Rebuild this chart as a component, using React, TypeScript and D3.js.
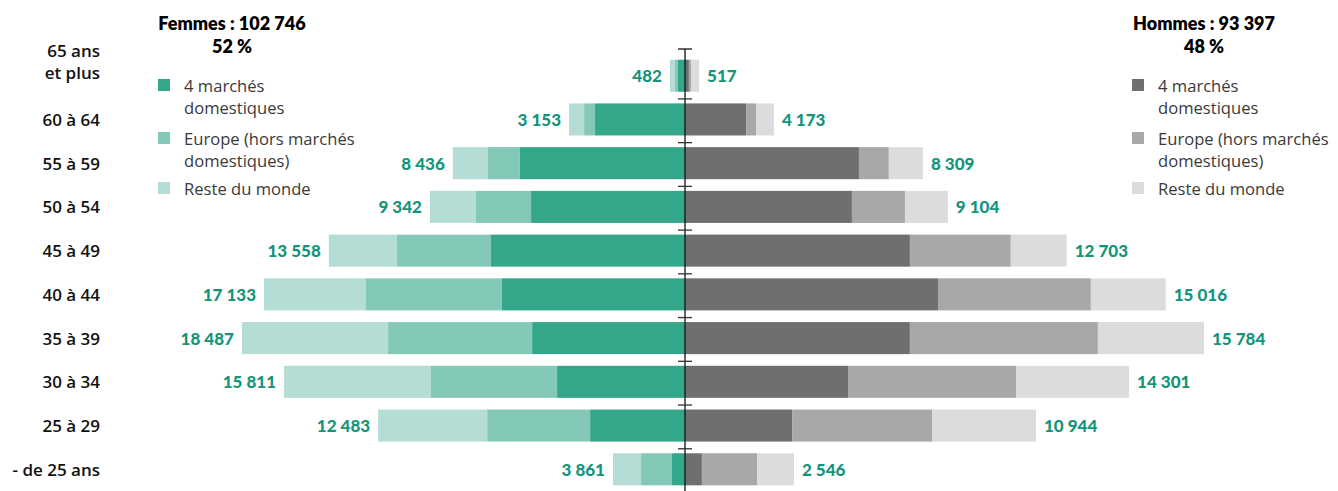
import React from "react";
import { scaleBand, scaleLinear, stack, formatLocale } from "d3";

// age groups, top to bottom
const ageGroups = [
  ["65 ans", "et plus"],
  ["60 à 64"],
  ["55 à 59"],
  ["50 à 54"],
  ["45 à 49"],
  ["40 à 44"],
  ["35 à 39"],
  ["30 à 34"],
  ["25 à 29"],
  ["- de 25 ans"],
];

// segment values
const femmesDomestiques = [270, 3460, 6350, 5920, 7460, 7040, 5880, 4920, 3650, 500];
const femmesEurope = [120, 420, 1230, 2120, 3620, 5230, 5540, 4850, 3960, 1190];
const femmesReste = [190, 580, 1350, 1770, 2620, 3920, 5620, 5650, 4190, 1080];

const hommesDomestiques = [150, 2350, 6690, 6420, 8650, 9730, 8650, 6270, 4120, 650];
const hommesEurope = [80, 380, 1150, 2040, 3880, 5880, 7230, 6460, 5380, 2120];
const hommesReste = [310, 690, 1310, 1650, 2150, 2880, 4080, 4350, 4000, 1420];

// printed totals
const femmesTotaux = [482, 3153, 8436, 9342, 13558, 17133, 18487, 15811, 12483, 3861];
const hommesTotaux = [517, 4173, 8309, 9104, 12703, 15016, 15784, 14301, 10944, 2546];

const legendLabels = [
  ["4 marchés", "domestiques"],
  ["Europe (hors marchés", "domestiques)"],
  ["Reste du monde"],
];

const femmesColors = ["#34a68a", "#84c9b8", "#b4ddd5"];
const hommesColors = ["#6f6f6f", "#a8a8a6", "#dcdcdc"];
const labelColor = "#13957a";

const fr = formatLocale({ decimal: ",", thousands: " ", grouping: [3], currency: ["", " €"] });
const fmt = fr.format(",d");

const W = 1338;
const H = 491;
const CX = 685;
const KEYS = ["dom", "eur", "rest"];

function buildStack(dom: number[], eur: number[], rest: number[]) {
  const rows = dom.map((d, i) => ({ i, dom: d, eur: eur[i], rest: rest[i] }));
  return stack<any>().keys(KEYS)(rows);
}

function Legend({ x, colors }: { x: number; colors: string[] }) {
  const tops = [79, 132, 182];
  return (
    <g>
      {legendLabels.map((lines, k) => (
        <g key={k}>
          <rect x={x} y={tops[k]} width={12} height={12} fill={colors[k]} />
          {lines.map((l, j) => (
            <text
              key={j}
              x={x + 26}
              y={tops[k] + 6 + j * 22}
              dominantBaseline="central"
              fontSize={16.6}
              fontFamily="'Open Sans', sans-serif"
              fill="#3a3a3a"
            >
              {l}
            </text>
          ))}
        </g>
      ))}
    </g>
  );
}

export default function App() {
  const yScale = scaleBand<number>()
    .domain(ageGroups.map((_, i) => i))
    .range([54, 491])
    .paddingInner(0.267)
    .paddingOuter(0.13);

  const leftX = scaleLinear().domain([0, 20000]).range([CX, CX - 520]);
  const rightX = scaleLinear().domain([0, 20000]).range([CX, CX + 520]);

  const fStack = buildStack(femmesDomestiques, femmesEurope, femmesReste);
  const hStack = buildStack(hommesDomestiques, hommesEurope, hommesReste);

  const bw = yScale.bandwidth();

  const header = (x: number, y: number, s: string) => (
    <text x={x} y={y} textAnchor="middle" dominantBaseline="central" fontSize={18} fontWeight={800} fill="#000">
      {s}
    </text>
  );

  return (
    <svg
      width={W}
      height={H}
      style={{ position: "absolute", left: 0, top: 0, fontFamily: "Lato, sans-serif" }}
    >
      {header(232, 23, "Femmes : 102 746")}
      {header(232, 46, "52 %")}
      {header(1204, 23, "Hommes : 93 397")}
      {header(1204, 46, "48 %")}

      <Legend x={158} colors={femmesColors} />
      <Legend x={1132} colors={hommesColors} />

      {/* age labels */}
      {ageGroups.map((lines, i) => {
        const cy = (yScale(i) ?? 0) + bw / 2;
        const y0 = lines.length > 1 ? cy - 25 : cy;
        return lines.map((l, j) => (
          <text
            key={`${i}-${j}`}
            x={100}
            y={y0 + j * 22}
            textAnchor="end"
            dominantBaseline="central"
            fontSize={17}
            fontWeight={600}
            fontFamily="'Open Sans', sans-serif"
            fill="#111"
          >
            {l}
          </text>
        ));
      })}

      {/* femmes bars */}
      {fStack.map((layer, k) =>
        layer.map((seg, i) => (
          <rect
            key={`f${k}-${i}`}
            x={leftX(seg[1])}
            y={yScale(i)}
            width={leftX(seg[0]) - leftX(seg[1])}
            height={bw}
            fill={femmesColors[k]}
          />
        ))
      )}
      {/* hommes bars */}
      {hStack.map((layer, k) =>
        layer.map((seg, i) => (
          <rect
            key={`h${k}-${i}`}
            x={rightX(seg[0])}
            y={yScale(i)}
            width={rightX(seg[1]) - rightX(seg[0])}
            height={bw}
            fill={hommesColors[k]}
          />
        ))
      )}

      {/* totals */}
      {femmesTotaux.map((v, i) => (
        <text
          key={`ft${i}`}
          x={leftX(fStack[2][i][1]) - 8}
          y={(yScale(i) ?? 0) + bw / 2}
          textAnchor="end"
          dominantBaseline="central"
          fontSize={17}
          fontWeight={900}
          fill={labelColor}
        >
          {fmt(v)}
        </text>
      ))}
      {hommesTotaux.map((v, i) => (
        <text
          key={`ht${i}`}
          x={rightX(hStack[2][i][1]) + 8}
          y={(yScale(i) ?? 0) + bw / 2}
          dominantBaseline="central"
          fontSize={17}
          fontWeight={900}
          fill={labelColor}
        >
          {fmt(v)}
        </text>
      ))}

      {/* central axis */}
      <line x1={CX} x2={CX} y1={49} y2={H} stroke="#111" strokeWidth={1.3} />
      <line x1={CX - 7} x2={CX + 7} y1={49} y2={49} stroke="#111" strokeWidth={1.3} />
      {ageGroups.slice(1).map((_, j) => {
        const ty = (yScale(j + 1) ?? 0) - 4.5;
        return (
          <line key={`t${j}`} x1={CX - 7} x2={CX + 7} y1={ty} y2={ty} stroke="#333" strokeWidth={1.3} />
        );
      })}
    </svg>
  );
}
